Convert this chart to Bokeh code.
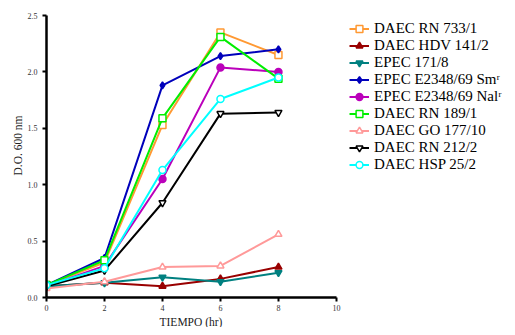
from bokeh.plotting import figure
from bokeh.models import Range1d, Legend, LegendItem, FixedTicker, NumeralTickFormatter, Title
from bokeh.embed import file_html
from bokeh.resources import INLINE

hours = [0, 2, 4, 6, 8]
names = ["DAEC RN 733/1", "DAEC HDV 141/2", "EPEC 171/8", "EPEC E2348/69 Smʳ",
         "EPEC E2348/69 Nalʳ", "DAEC RN 189/1", "DAEC GO 177/10", "DAEC RN 212/2", "DAEC HSP 25/2"]
rn733 = [0.11, 0.31, 1.53, 2.35, 2.15]
hdv141 = [0.10, 0.13, 0.10, 0.165, 0.27]
epec171 = [0.10, 0.13, 0.18, 0.14, 0.22]
sm = [0.11, 0.35, 1.88, 2.14, 2.20]
nal = [0.10, 0.28, 1.05, 2.04, 2.00]
rn189 = [0.11, 0.33, 1.59, 2.31, 1.94]
go177 = [0.08, 0.14, 0.27, 0.28, 0.56]
rn212 = [0.10, 0.24, 0.84, 1.63, 1.64]
hsp25 = [0.11, 0.26, 1.13, 1.76, 1.95]
series = [rn733, hdv141, epec171, sm, nal, rn189, go177, rn212, hsp25]
x_ticks = [0, 2, 4, 6, 8, 10]
y_ticks = [0, 0.5, 1.0, 1.5, 2.0, 2.5]

colors = ["#FF9933", "#990000", "#008080", "#0000BB", "#BB00BB", "#00EE00", "#FF9999", "#000000", "#00FFFF"]
markers = ["square", "triangle", "inverted_triangle", "diamond", "circle", "square", "triangle", "inverted_triangle", "circle"]
filled = [False, True, True, True, True, False, False, False, False]

FONT = "Times New Roman"

p = figure(width=507, height=327, output_backend="svg", toolbar_location=None,
           x_range=Range1d(0, 15.9), y_range=Range1d(0, 2.5),
           min_border_left=46, min_border_top=15, min_border_bottom=0, min_border_right=0)
p.outline_line_color = None
p.xgrid.visible = False
p.ygrid.visible = False

for ax in (p.xaxis[0], p.yaxis[0]):
    ax.axis_line_width = 2.5
    ax.axis_line_color = "black"
    ax.major_tick_line_width = 2
    ax.major_tick_out = 4
    ax.major_tick_in = 0
    ax.minor_tick_line_color = None
    ax.major_label_text_font = FONT
    ax.major_label_text_font_size = "8px"
    ax.major_label_text_color = "#333333"

p.xaxis.ticker = FixedTicker(ticks=x_ticks)
p.yaxis.ticker = FixedTicker(ticks=y_ticks)
p.xaxis.bounds = (0, 10)
p.yaxis.bounds = (0, 2.5)
p.yaxis.formatter = NumeralTickFormatter(format="0.0")
p.xaxis.major_label_standoff = 3

xt = Title(text="TIEMPO (hr)", align="left", offset=113, standoff=0,
           text_font=FONT, text_font_size="11.5px", text_font_style="normal",
           text_color="#222222")
p.add_layout(xt, "below")

yt = Title(text="D.O. 600 nm", align="left", offset=122, standoff=2,
           text_font=FONT, text_font_size="11.5px", text_font_style="normal",
           text_color="#222222")
p.add_layout(yt, "left")

items = []
for name, ys, c, m, f in zip(names, series, colors, markers, filled):
    r1 = p.line(hours, ys, line_color=c, line_width=2)
    r2 = p.scatter(hours, ys, marker=m, size=7, line_color=c, line_width=1.5,
                   fill_color=c if f else "white")
    items.append(LegendItem(label=name, renderers=[r1, r2]))

legend = Legend(items=items, location=(303, 124), padding=0, margin=0, spacing=0,
                label_height=17, glyph_height=17, glyph_width=20, label_standoff=5,
                border_line_color=None, background_fill_alpha=0,
                label_text_font=FONT, label_text_font_size="15px",
                label_text_color="black")
p.add_layout(legend, "center")

open("out.html", "w").write(file_html(p, INLINE))
